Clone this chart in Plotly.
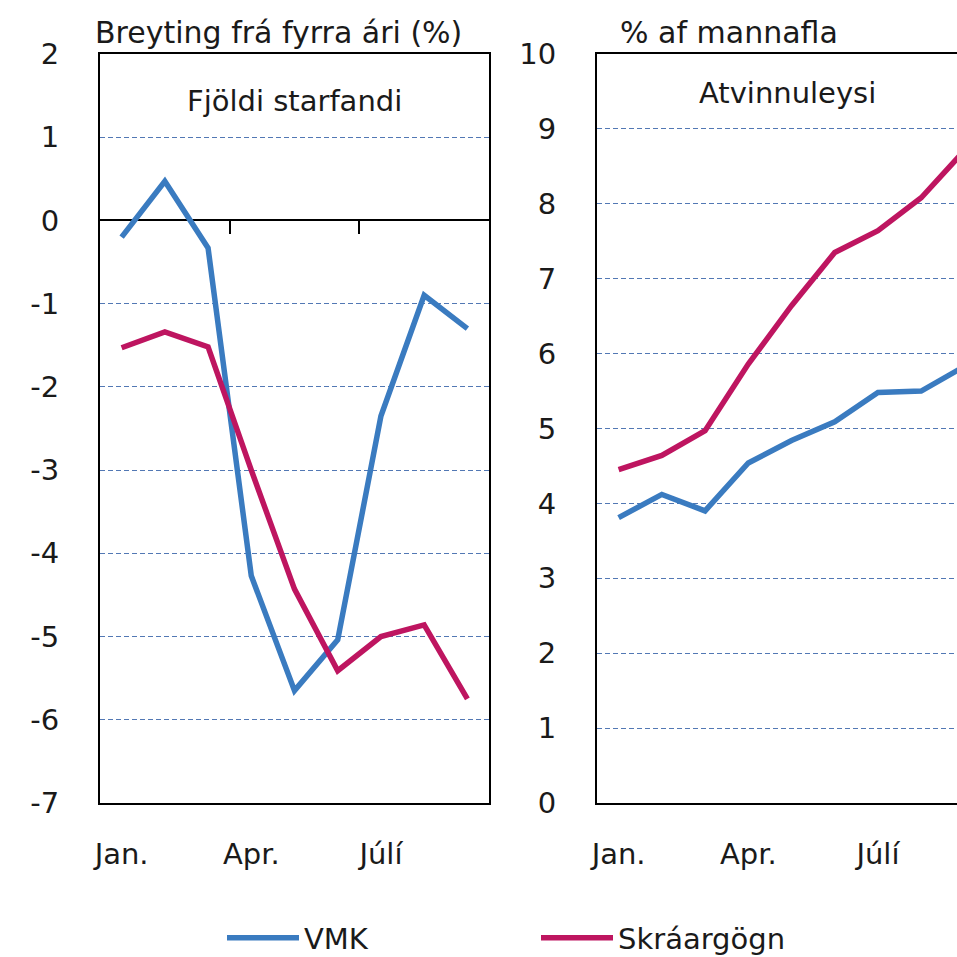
import plotly.graph_objects as go

months = ["Jan.", "Feb.", "Mar.", "Apr.", "Maí", "Júní", "Júlí", "Ágúst", "Sept."]
tick_idx = [0, 3, 6]
tick_text = ["Jan.", "Apr.", "Júlí"]

emp_vmk = [-0.20, 0.47, -0.33, -4.27, -5.65, -5.04, -2.35, -0.90, -1.30]
emp_reg = [-1.53, -1.34, -1.52, -3.00, -4.43, -5.41, -5.00, -4.86, -5.75]

unemp_vmk = [3.81, 4.12, 3.90, 4.54, 4.84, 5.09, 5.48, 5.50, 5.83]
unemp_reg = [4.45, 4.64, 4.97, 5.86, 6.64, 7.35, 7.64, 8.08, 8.71]

y1_ticks = [2, 1, 0, -1, -2, -3, -4, -5, -6, -7]
y1_text = ["2", "1", "0", "-1", "-2", "-3", "-4", "-5", "-6", "-7"]
y2_ticks = list(range(0, 11))
y2_text = [str(v) for v in y2_ticks]

BLUE = "#3A7BC0"
MAG = "#BE1560"
GRID = "#5278B4"
FONT = "DejaVu Sans"
FS = 29
TXT = "#1a1a1a"

W = H = 957


def px(p):       # page x -> paper fraction
    return p / W


def py(p):       # page y -> paper fraction
    return 1 - p / H


x = list(range(len(months)))

fig = go.Figure()
fig.add_trace(go.Scatter(x=x, y=emp_vmk, mode="lines", name="VMK",
                         line=dict(color=BLUE, width=5.5), xaxis="x", yaxis="y"))
fig.add_trace(go.Scatter(x=x, y=emp_reg, mode="lines", name="Skráargögn",
                         line=dict(color=MAG, width=5.5), xaxis="x", yaxis="y"))
fig.add_trace(go.Scatter(x=x, y=unemp_vmk, mode="lines", name="VMK", showlegend=False,
                         line=dict(color=BLUE, width=5.5), xaxis="x2", yaxis="y2"))
fig.add_trace(go.Scatter(x=x, y=unemp_reg, mode="lines", name="Skráargögn", showlegend=False,
                         line=dict(color=MAG, width=5.5), xaxis="x2", yaxis="y2"))
# helper trace for the tick axis at the zero line
fig.add_trace(go.Scatter(x=[None], y=[None], mode="lines", showlegend=False,
                         hoverinfo="skip", xaxis="x3", yaxis="y"))

ncat = len(months)
left_l, left_r = 100, 489
right_l = 597
cat_px = (left_r - left_l) / ncat
y_dom = [py(803), py(54)]
y1_range = [-7, 2]
zero_frac = y_dom[0] + (y_dom[1] - y_dom[0]) * (0 - y1_range[0]) / (y1_range[1] - y1_range[0])

axis_font = dict(family=FONT, size=FS, color=TXT)

ITEMW = 72

fig.update_layout(
    width=W, height=H,
    margin=dict(l=0, r=0, t=0, b=0, autoexpand=False),
    paper_bgcolor="white", plot_bgcolor="white",
    font=dict(family=FONT, size=FS, color=TXT),
    hovermode=False,
    xaxis=dict(domain=[px(left_l), px(left_r)], range=[-0.5, ncat - 0.5],
               tickvals=tick_idx, ticktext=tick_text, ticks="",
               ticklabelstandoff=24, tickfont=axis_font,
               showgrid=False, zeroline=False,
               showline=True, linecolor="black", linewidth=2, mirror=True),
    yaxis=dict(domain=y_dom, range=y1_range, tickvals=y1_ticks, ticktext=y1_text, ticks="",
               ticklabelstandoff=33, tickfont=axis_font,
               showgrid=True, gridcolor=GRID, gridwidth=1, griddash="5px,3px",
               zeroline=True, zerolinecolor="black", zerolinewidth=1.5,
               showline=True, linecolor="black", linewidth=2, mirror=True),
    xaxis3=dict(overlaying="x", anchor="free", position=zero_frac, side="bottom",
                range=[-0.5, ncat - 0.5], tickvals=[2.5, 5.5],
                ticks="outside", ticklen=13, tickwidth=1.5, tickcolor="black",
                showticklabels=False, showgrid=False, zeroline=False, showline=False),
    xaxis2=dict(domain=[px(right_l), 1], anchor="y2",
                range=[-0.5, -0.5 + (W - right_l) / cat_px],
                tickvals=tick_idx, ticktext=tick_text, ticks="",
                ticklabelstandoff=24, tickfont=axis_font,
                showgrid=False, zeroline=False,
                showline=True, linecolor="black", linewidth=2, mirror=True),
    yaxis2=dict(domain=y_dom, anchor="x2", range=[0, 10],
                tickvals=y2_ticks, ticktext=y2_text, ticks="",
                ticklabelstandoff=33, tickfont=axis_font,
                showgrid=True, gridcolor=GRID, gridwidth=1, griddash="5px,3px",
                zeroline=False,
                showline=True, linecolor="black", linewidth=2, mirror=False),
    showlegend=True,
    legend=dict(orientation="h", x=px(222), xanchor="left", y=py(938), yanchor="middle",
                font=dict(family=FONT, size=FS, color=TXT),
                itemwidth=ITEMW,
                entrywidth=315 - ITEMW - 16, entrywidthmode="pixels",
                bgcolor="rgba(0,0,0,0)"),
    annotations=[
        dict(text="Breyting frá fyrra ári (%)", xref="paper", yref="paper",
             x=px(93), y=py(33), xanchor="left", yanchor="middle",
             showarrow=False, font=dict(family=FONT, size=30, color=TXT)),
        dict(text="% af mannafla", xref="paper", yref="paper",
             x=px(618), y=py(33), xanchor="left", yanchor="middle",
             showarrow=False, font=dict(family=FONT, size=30, color=TXT)),
        dict(text="Fjöldi starfandi", xref="paper", yref="paper",
             x=px((left_l + left_r) / 2), y=py(101), xanchor="center", yanchor="middle",
             showarrow=False, font=dict(family=FONT, size=FS, color=TXT)),
        dict(text="Atvinnuleysi", xref="paper", yref="paper",
             x=px(787), y=py(93), xanchor="center", yanchor="middle",
             showarrow=False, font=dict(family=FONT, size=FS, color=TXT)),
    ],
)

fig.write_html(
    "out.html",
    config={"displayModeBar": False, "staticPlot": False},
    post_script=(
        "document.documentElement.style.overflow='hidden';"
        "document.body.style.overflow='hidden';"
        "document.body.style.margin='0';"
    ),
)
